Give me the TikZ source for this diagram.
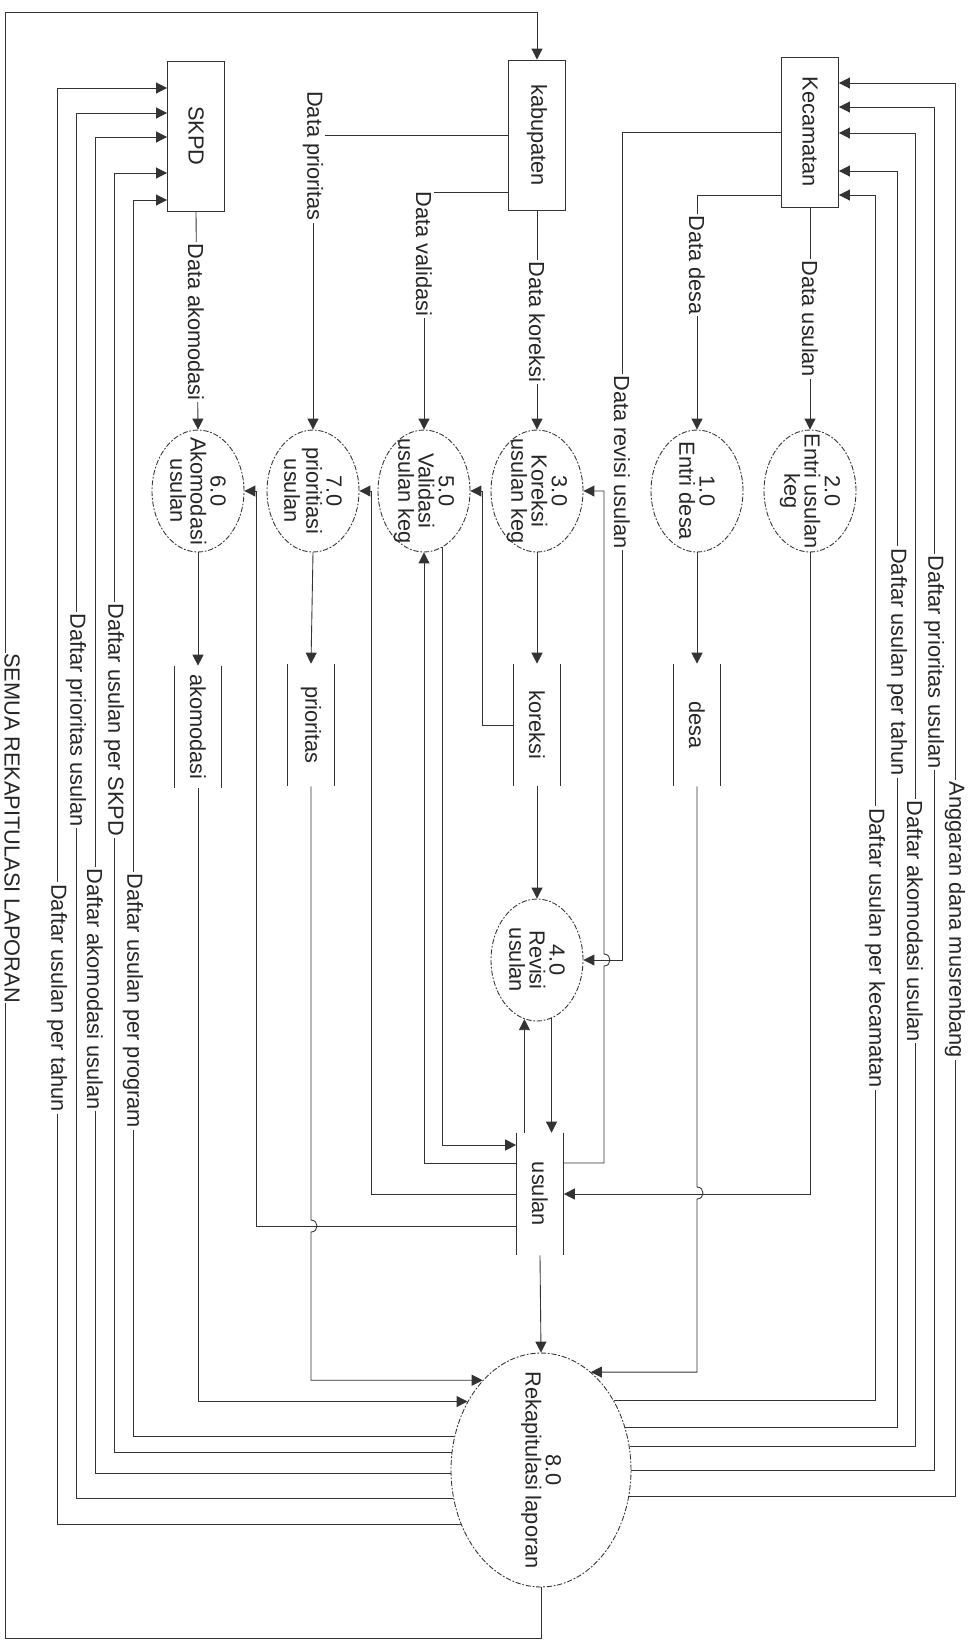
\documentclass[tikz,border=0pt]{standalone}
\usepackage{fontspec}
\setmainfont{Liberation Sans}
\usetikzlibrary{arrows.meta,calc,shapes.geometric}

\tikzset{
  line/.style={draw=black!80, line width=0.5pt},
  flow/.style={line, -{Triangle[length=2.2mm,width=2.2mm]}},
  proc/.style={ellipse, line, dash pattern=on 3pt off 1pt on 1pt off 1pt,
    minimum width=1.84cm, minimum height=2.44cm, inner sep=0pt},
  ent/.style={rectangle, line, minimum width=1.14cm, minimum height=3cm,
    inner sep=0pt, font=\fontsize{12.4}{14}\selectfont, text=black!85},
  store/.style={minimum width=0.94cm, minimum height=2.44cm, inner sep=0pt,
    font=\fontsize{12.4}{14}\selectfont, text=black!85},
  txt/.style={rotate=-90, align=center, font=\fontsize{12.4}{11.5}\selectfont, text=black!85},
  lbl/.style={txt, fill=white, inner sep=1pt},
}

\begin{document}
\begin{tikzpicture}[x=0.02cm, y=-0.02cm]
    \useasboundingbox (0,0) rectangle (969,1647);

    % Entites
    \node[ent] (kec) at (810,132) {\rotatebox{-90}{Kecamatan}};
    \node[ent] (kab) at (537,135) {\rotatebox{-90}{kabupaten}};
    \node[ent] (skpd) at (196,136) {\rotatebox{-90}{SKPD}};

    % Processus
    \node[proc] (p2) at (810,491) {};
    \node[proc] (p1) at (697,491) {};
    \node[proc] (p3) at (537,491) {};
    \node[proc] (p5) at (424,491) {};
    \node[proc] (p7) at (313,491) {};
    \node[proc] (p6) at (198,491) {};
    \node[proc] (p4) at (537,960) {};
    \node[proc, minimum width=3.6cm, minimum height=4.68cm] (p8) at (541,1470) {};

    \node[txt] (t2) at (p2) {2.0\\Entri usulan\\keg};
    \node[txt] (t1) at (p1) {1.0\\Entri desa};
    \node[txt] (t3) at (p3) {3.0\\Koreksi\\usulan keg};
    \node[txt] (t5) at (p5) {5.0\\Validasi\\usulan keg};
    \node[txt] (t7) at (p7) {7.0\\prioritiasi\\usulan};
    \node[txt] (t6) at (p6) {6.0\\Akomodasi\\usulan};
    \node[txt] (t4) at (p4) {4.0\\Revisi\\usulan};
    \node[txt] (t8) at (p8) {8.0\\Rekapitulasi laporan};

    % Stores
    \node[store] (sdesa) at (697,725) {\rotatebox{-90}{desa}};
    \node[store] (skor) at (537,725) {\rotatebox{-90}{koreksi}};
    \node[store] (sprio) at (311,725) {\rotatebox{-90}{prioritas}};
    \node[store] (sakom) at (198,727) {\rotatebox{-90}{akomodasi}};
    \node[store] (susul) at (540,1194) {\rotatebox{-90}{usulan}};

    \draw[line] (sdesa.north west) -- (sdesa.south west) (sdesa.north east) -- (sdesa.south east);
    \draw[line] (skor.north west) -- (skor.south west) (skor.north east) -- (skor.south east);
    \draw[line] (sprio.north west) -- (sprio.south west) (sprio.north east) -- (sprio.south east);
    \draw[line] (sakom.north west) -- (sakom.south west) (sakom.north east) -- (sakom.south east);
    \draw[line] (susul.north west) -- (susul.south west) (susul.north east) -- (susul.south east);

    % Flux des entites
    \draw[flow] (kec.south) -- (p2.north);
    \draw[flow] ($(kec.west)+(0,63)$) -| (p1.north);
    \draw[flow] (kec.west) -- ++(-159,0) |- (p4.east);
    \draw[flow] (kab.south) -- (p3.north);
    \draw[flow] ($(kab.west)+(0,57)$) -| (p5.north);
    \draw[flow] (kab.west) -| (p7.north);
    \draw[flow] (skpd.south) -- (p6.north);

    % Flux processus / stores
    \draw[flow] (p1.south) -- (sdesa.north);
    \draw[flow] (p3.south) -- (skor.north);
    \draw[flow] (p7.south) -- (sprio.north);
    \draw[flow] (p6.south) -- (sakom.north);
    \draw[flow] (skor.south) -- (p4.north);
    \draw[flow] (p4.-76) -- (p4.-76 |- susul.north);
    \draw[flow] (p4.-102 |- susul.north) -- (p4.-102);
    \draw[flow] (skor.west) -- ++(-31,0) |- (p5.east);
    \draw[flow] ($(susul.east)+(0,-31)$) -| (604,966)
        .. controls (612,966) and (612,954) .. (604,954) |- (p3.east);
    \draw[flow] ($(susul.west)+(0,-31)$) -| (p5.south);
    \draw[flow] (p5.-72) |- ($(susul.west)+(0,-49)$);
    \draw[flow] (susul.west) -- ++(-145,0) |- (p7.east);
    \draw[flow] ($(susul.west)+(0,32)$) -- ++(-260,0) |- (p6.east);
    \draw[flow] (p2.south) |- (susul.east);

    % Vers 8.0
    \draw[flow] (susul.south) -- (p8.north);
    \draw[flow] (sdesa.south) -- (697,1187)
        .. controls (705,1187) and (705,1199) .. (697,1199) |- (p8.63);
    \draw[flow] (sprio.south) -- (311,1220)
        .. controls (319,1220) and (319,1232) .. (311,1232) |- (p8.123);
    \draw[flow] (sakom.south) |- (p8.137);

    % Laporan ke Kecamatan
    \draw[flow] (p8.44) -| (875,195) -- (kec.east |- 0,195);
    \draw[flow] (p8.27) -| (897,171) -- (kec.east |- 0,171);
    \draw[flow] (p8.15) -| (915,133) -- (kec.east |- 0,133);
    \draw[flow] (p8.east) -| (934,107) -- (kec.east |- 0,107);
    \draw[flow] (p8.-17) -| (955,83) -- (kec.east |- 0,83);

    % Laporan ke SKPD
    \draw[flow] (p8.159) -| (133,200) -- (skpd.west |- 0,200);
    \draw[flow] (p8.169) -| (114,173) -- (skpd.west |- 0,173);
    \draw[flow] (p8.182) -| (95,137) -- (skpd.west |- 0,137);
    \draw[flow] (p8.198) -| (76,113) -- (skpd.west |- 0,113);
    \draw[flow] (p8.214) -| (57,88) -- (skpd.west |- 0,88);

    % Laporan ke kabupaten
    \draw[flow] (p8.south) |- (5,1638) |- (537,12) -- (kab.north);

    % Labels des flux
    \node[lbl] (l1) at (810,319) {Data usulan};
    \node[lbl] (l2) at (697,265) {Data desa};
    \node[lbl] (l3) at (537,322) {Data koreksi};
    \node[lbl] (l4) at (424,254) {Data validasi};
    \node[lbl] (l5) at (313,156) {Data prioritas};
    \node[lbl] (l6) at (196,322) {Data akomodasi};
    \node[lbl] (l7) at (622,462) {Data revisi usulan};

    \node[lbl] (r1) at (875,948) {Daftar usulan per kecamatan};
    \node[lbl] (r2) at (897,662) {Daftar usulan per tahun};
    \node[lbl] (r3) at (915,921) {Daftar akomodasi usulan};
    \node[lbl] (r4) at (934,662) {Daftar prioritas usulan};
    \node[lbl] (r5) at (955,920) {Anggaran dana musrenbang};

    \node[lbl] (s1) at (133,1001) {Daftar usulan per program};
    \node[lbl] (s2) at (114,720) {Daftar usulan per SKPD};
    \node[lbl] (s3) at (95,989) {Daftar akomodasi usulan};
    \node[lbl] (s4) at (76,720) {Daftar prioritas usulan};
    \node[lbl] (s5) at (57,998) {Daftar usulan per tahun};

    \node[lbl, inner sep=0pt] (k1) at (12,828) {SEMUA REKAPITULASI LAPORAN};

\end{tikzpicture}
\end{document}
